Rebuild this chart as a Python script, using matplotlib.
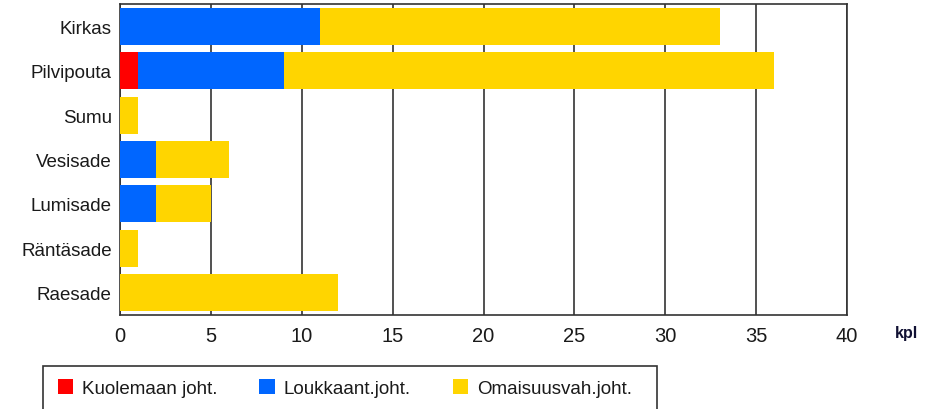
import numpy as np
import matplotlib

matplotlib.use("Agg")
import matplotlib.pyplot as plt
from matplotlib.patches import Rectangle

# Weather conditions (top to bottom) and accident counts per severity
conditions = ["Kirkas", "Pilvipouta", "Sumu", "Vesisade", "Lumisade", "Räntäsade", "Raesade"]
fatal = [0, 1, 0, 0, 0, 0, 0]
injury = [11, 8, 0, 2, 2, 0, 0]
property_only = [22, 27, 1, 4, 3, 1, 12]

series_labels = ["Kuolemaan joht.", "Loukkaant.joht.", "Omaisuusvah.joht."]
series_colors = ["#FF0000", "#0066FF", "#FFD500"]
x_ticks = [0, 5, 10, 15, 20, 25, 30, 35, 40]

plt.rcParams["font.family"] = ["Liberation Sans", "DejaVu Sans"]

W, H = 941, 410
fig = plt.figure(figsize=(W / 100, H / 100), dpi=100)
ax = fig.add_axes([120 / W, 1 - 316 / H, (847 - 120) / W, (316 - 5) / H])

y = np.arange(len(conditions))
left = np.zeros(len(conditions))
for vals, lab, col in zip([fatal, injury, property_only], series_labels, series_colors):
    ax.barh(y, vals, left=left, height=0.83, color=col, label=lab, zorder=3)
    left += np.asarray(vals, dtype=float)

ax.set_xlim(0, 40)
ax.set_ylim(len(conditions) - 0.5, -0.5)
ax.set_xticks(x_ticks)
ax.set_yticks(y)
ax.set_yticklabels(conditions)
ax.tick_params(axis="both", length=0, labelsize=13.5, colors="#1a1a1a")
ax.tick_params(axis="x", pad=8, labelsize=14.5)
ax.tick_params(axis="y", pad=6)
ax.xaxis.grid(True, color="#333333", linewidth=1.2, zorder=1)
ax.set_axisbelow(True)
for sp in ax.spines.values():
    sp.set_color("#333333")
    sp.set_linewidth(1.2)

fig.text(906 / W, 1 - 334 / H, "kpl", fontsize=11.5, fontweight="heavy",
         color="#111133", ha="center", va="center")

# legend box runs off the bottom edge, as in the original
fig.patches.append(Rectangle((43 / W, -0.05), (657 - 43) / W, 0.05 + 1 - 367 / H,
                             transform=fig.transFigure, fill=False,
                             edgecolor="#333333", linewidth=1.2, clip_on=False))
handles, labels = ax.get_legend_handles_labels()
fig.legend(handles, labels, ncol=3, frameon=False, fontsize=13.5,
           loc="center left", bbox_to_anchor=(50 / W, 1 - 389 / H),
           handlelength=0.85, handleheight=0.8, handletextpad=0.45,
           columnspacing=2.23, borderaxespad=0, labelcolor="#1a1a1a")

fig.savefig("out.png", dpi=100)
